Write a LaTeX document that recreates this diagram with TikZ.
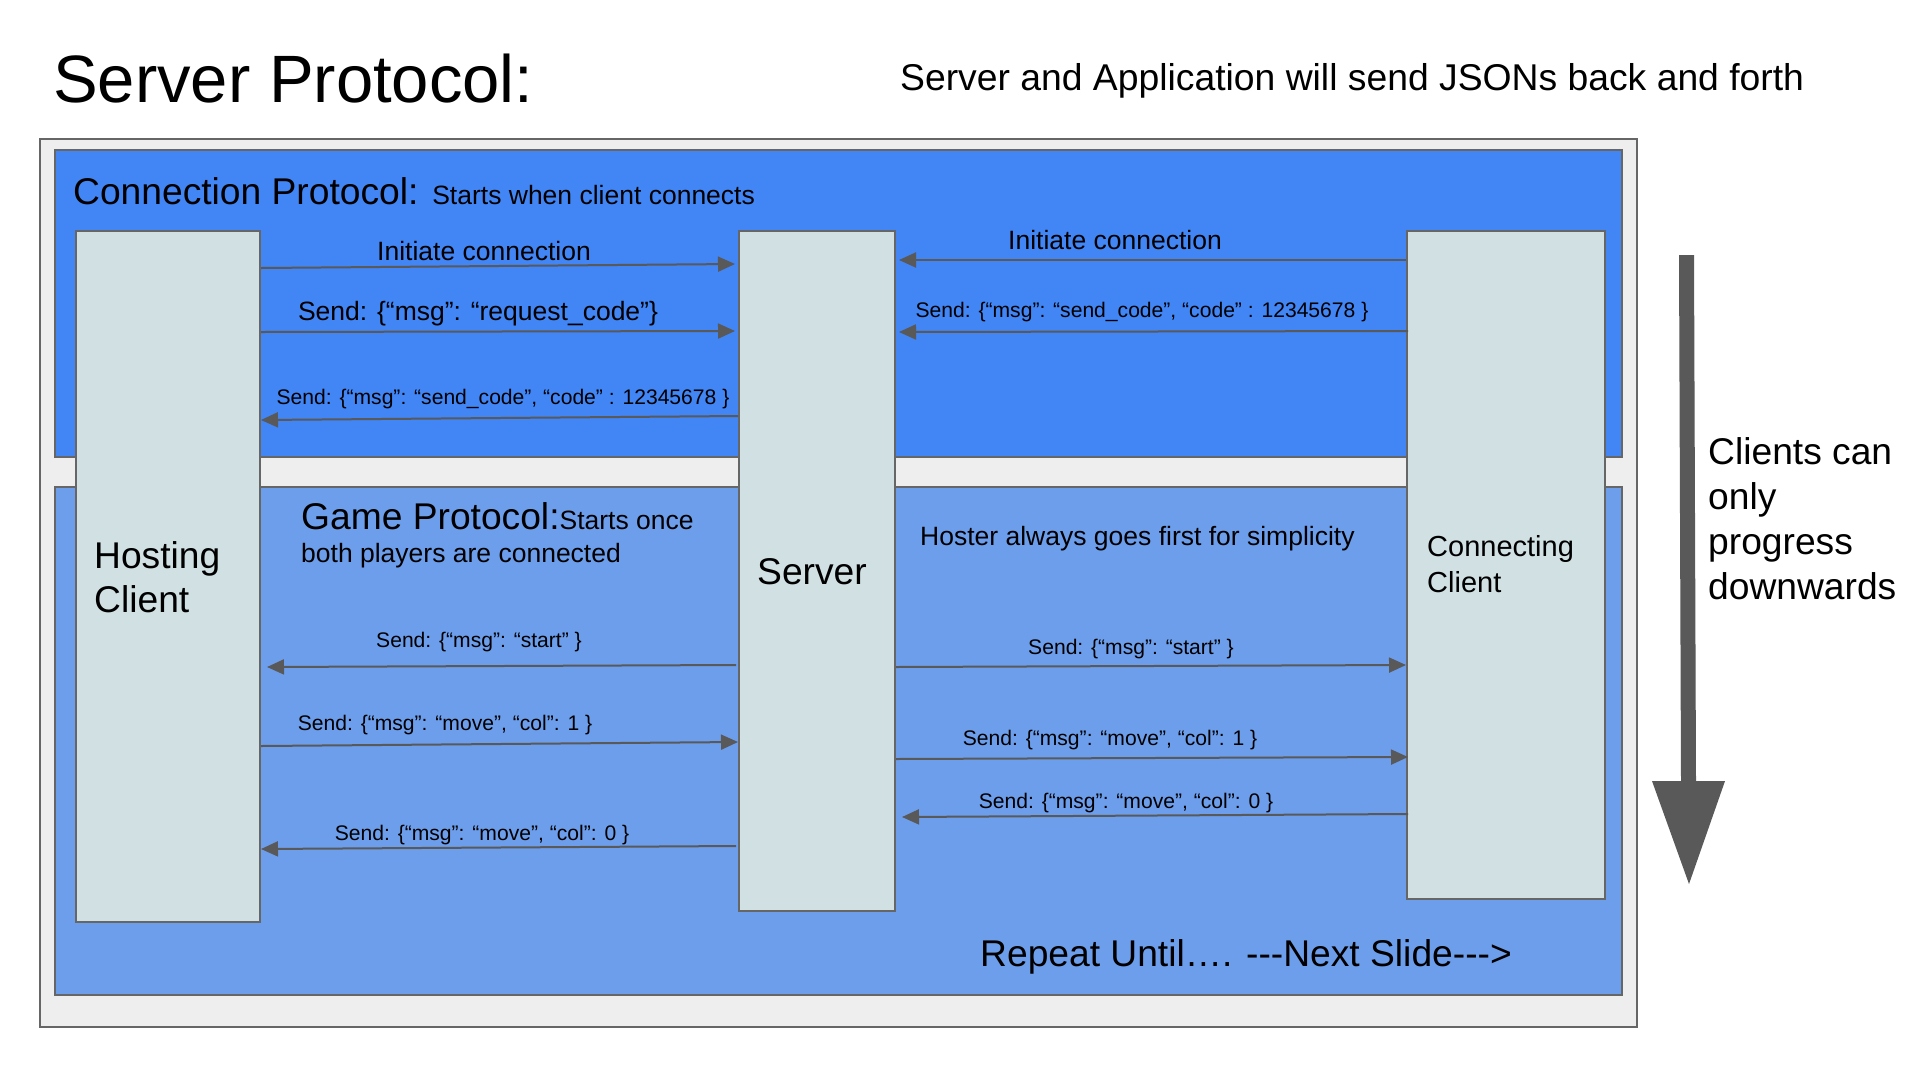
\documentclass[tikz,border=0pt]{standalone}
\usepackage{fontspec}
\setmainfont{Liberation Sans}
\usetikzlibrary{arrows.meta,calc}
\definecolor{connblue}{HTML}{4285F4}
\definecolor{gameblue}{HTML}{6D9EEB}
\definecolor{lifefill}{HTML}{D0E0E3}
\definecolor{framefill}{HTML}{EEEEEE}
\definecolor{edgegray}{HTML}{666666}
\definecolor{arrgray}{HTML}{595959}
\begin{document}
\begin{tikzpicture}[x=1pt,y=-1pt,
  box/.style={draw=edgegray, line width=2pt, inner sep=0pt, anchor=north west},
  lifeline/.style={box, fill=lifefill},
  msg/.style={draw=arrgray, line width=2pt, -{Triangle[length=17pt,width=15pt]}},
  lbl/.style={inner sep=0pt, anchor=base, font=\fontsize{21.1}{26}\selectfont},
  mid/.style={inner sep=0pt, anchor=base, font=\fontsize{26.5}{32}\selectfont},
  big/.style={inner sep=0pt, anchor=base west, font=\fontsize{37.2}{45}\selectfont},
  txt/.style={inner sep=0pt, anchor=base west},
]
\fill[white] (0,0) rectangle (1920,1080);
\useasboundingbox (0,0) rectangle (1920,1080);

% frames
\node[box, fill=framefill, minimum width=1597pt, minimum height=888pt] (frame) at (39,138) {};
\node[box, fill=connblue, minimum width=1567pt, minimum height=307pt] (conn) at (54,149) {};
\node[box, fill=gameblue, minimum width=1567pt, minimum height=508pt] (game) at (54,486) {};

% lifelines
\node[lifeline, minimum width=184pt, minimum height=691pt] (host) at (75,230) {};
\node[lifeline, minimum width=156pt, minimum height=680pt] (server) at (738,230) {};
\node[lifeline, minimum width=198pt, minimum height=668pt] (client) at (1406,230) {};

% titles
\node[txt, font=\fontsize{67}{80}\selectfont] (title) at (53,102) {Server Protocol:};
\node[txt, font=\fontsize{37.3}{45}\selectfont] (subtitle) at (900,90) {Server and Application will send JSONs back and forth};

\node[big] (conntitle) at (73,204.5) {Connection Protocol: {\fontsize{26.5}{32}\selectfont Starts when client connects}};
\node[big] (gametitle) at (301,529) {Game Protocol:{\fontsize{26.5}{32}\selectfont Starts once}};
\node[mid, anchor=base west] (gamesub) at (301,562) {both players are connected};

\node[big] (hostA) at (94,568) {Hosting};
\node[big] (hostB) at (94,612) {Client};
\node[big, anchor=base] (serverlbl) at (812,584) {Server};
\node[txt, font=\fontsize{29}{35}\selectfont] (clientA) at (1427,556) {Connecting};
\node[txt, font=\fontsize{29}{35}\selectfont] (clientB) at (1427,592) {Client};
\node[mid, anchor=base west] (hoster) at (920,545) {Hoster always goes first for simplicity};
\node[big] (repeat) at (980,966) {Repeat Until…. -{}-{}-Next Slide-{}-{}->};

\node[big] (note1) at (1708,464) {Clients can};
\node[big] (note2) at (1708,509) {only};
\node[big] (note3) at (1708,554) {progress};
\node[big] (note4) at (1708,599) {downwards};

% big arrow
\fill[arrgray] (1679,255) -- (1694,255) -- (1696,781) -- (1725,781) -- (1689,884) -- (1652,781) -- (1681,781) -- cycle;

% connection protocol messages
\draw[msg] (host.east |- 0,268) -- ([xshift=-3pt]server.west |- 0,264);
\node[mid] at (484,260) {Initiate connection};
\draw[msg] (host.east |- 0,332) -- ([xshift=-3pt]server.west |- 0,331);
\node[mid] at (478,320) {Send: \{“msg”: “request\_code”\}};
\draw[msg] (server.west |- 0,416) -- (host.east |- 0,420);
\node[lbl] at (503,404) {Send: \{“msg”: “send\_code”, “code” : 12345678 \}};

\draw[msg] (client.west |- 0,260) -- ([xshift=3pt]server.east |- 0,260);
\node[mid] at (1115,249) {Initiate connection};
\draw[msg] ([xshift=2pt]client.west |- 0,331) -- ([xshift=3pt]server.east |- 0,332);
\node[lbl] at (1142,317) {Send: \{“msg”: “send\_code”, “code” : 12345678 \}};

% game protocol messages
\draw[msg] ([xshift=-2pt]server.west |- 0,665) -- ([xshift=6pt]host.east |- 0,667);
\node[lbl] at (479,647) {Send: \{“msg”: “start” \}};
\draw[msg] (host.east |- 0,746) -- (server.west |- 0,742);
\node[lbl] at (445,730) {Send: \{“msg”: “move”, “col”: 1 \}};
\draw[msg] ([xshift=-2pt]server.west |- 0,846) -- (host.east |- 0,849);
\node[lbl] at (482,840) {Send: \{“msg”: “move”, “col”: 0 \}};

\draw[msg] (server.east |- 0,667) -- (client.west |- 0,665);
\node[lbl] at (1131,654) {Send: \{“msg”: “start” \}};
\draw[msg] (server.east |- 0,759) -- ([xshift=2pt]client.west |- 0,757);
\node[lbl] at (1110,745) {Send: \{“msg”: “move”, “col”: 1 \}};
\draw[msg] ([xshift=2pt]client.west |- 0,814) -- ([xshift=6pt]server.east |- 0,817);
\node[lbl] at (1126,808) {Send: \{“msg”: “move”, “col”: 0 \}};
\end{tikzpicture}
\end{document}
